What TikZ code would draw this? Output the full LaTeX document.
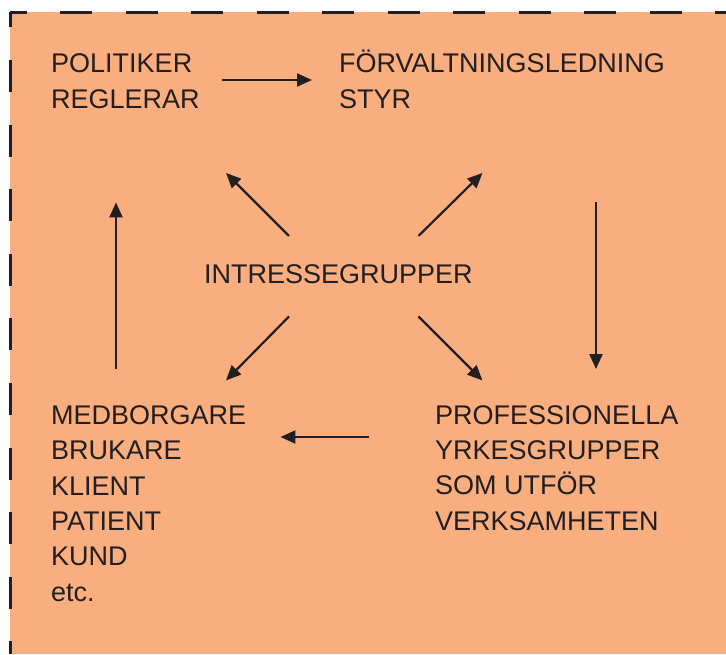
\documentclass[tikz,border=0pt]{standalone}
\usepackage{fontspec}
\setmainfont{Liberation Sans}
\usetikzlibrary{arrows.meta}
\definecolor{salmon}{HTML}{F9AE80}
\definecolor{ink}{HTML}{231F20}

\begin{document}
\begin{tikzpicture}[x=1pt, y=-1pt,
        txtnode/.style={anchor=base west, align=left, inner sep=0pt, text=ink,
                font=\fontsize{27}{35.3}\selectfont},
        arr/.style={draw=ink, line width=2.2pt, -{Triangle[length=15pt,width=13pt]}},
        border/.style={draw=ink, line width=3pt}
        ]
        \useasboundingbox (0,0) rectangle (726,654);
        % background and dashed frame
        \fill[salmon] (10,12) rectangle (726,654);
        \draw[border, dash pattern=on 32pt off 33.5pt, dash phase=15.5pt] (10,12) -- (726,12);
        \draw[border, dash pattern=on 32pt off 32.6pt, dash phase=16.6pt] (10,12) -- (10,654);

        % base = baseline of the last line
        \node[txtnode] (pol)  at (51,108)  {POLITIKER\\REGLERAR};
        \node[txtnode] (forv) at (339,108) {FÖRVALTNINGSLEDNING\\STYR};
        \node[txtnode] (int)  at (204,283) {INTRESSEGRUPPER};
        \node[txtnode] (medb) at (51,601)  {MEDBORGARE\\BRUKARE\\KLIENT\\PATIENT\\KUND\\etc.};
        \node[txtnode] (prof) at (435,530) {PROFESSIONELLA\\YRKESGRUPPER\\SOM UTFÖR\\VERKSAMHETEN};

        % the cycle
        \draw[arr, shorten <=22.5pt, shorten >=27pt] (pol.east |- 0,80) -- (forv.west |- 0,80);
        \draw[arr, shorten <=94pt, shorten >=36pt] (forv.south -| 596,0) -- (prof.north -| 596,0);
        \draw[arr, shorten <=66pt, shorten >=34pt] (prof.west |- 0,437) -- (medb.east |- 0,437);
        \draw[arr, shorten <=36pt, shorten >=94pt] (medb.north -| 116,0) -- (pol.south -| 116,0);

        % from the interest groups
        \draw[arr] ([shift={(85,-28)}]int.north west) -- ++(-63,-63);
        \draw[arr] ([shift={(-54.5,-28)}]int.north east) -- ++(64,-63);
        \draw[arr] ([shift={(85,33)}]int.south west) -- ++(-63,64);
        \draw[arr] ([shift={(-54.5,33)}]int.south east) -- ++(64,64);
\end{tikzpicture}
\end{document}
